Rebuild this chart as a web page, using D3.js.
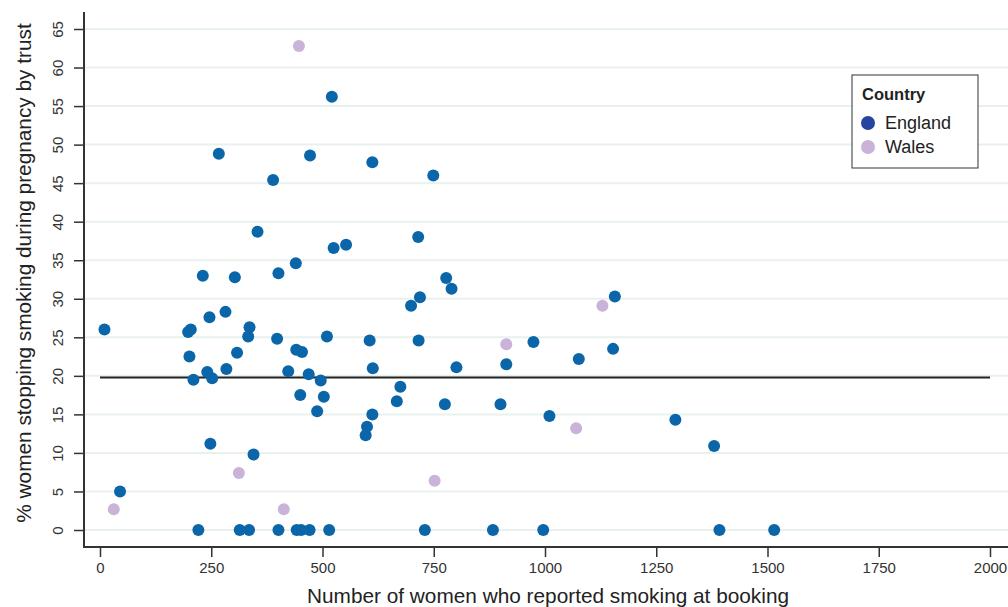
<!DOCTYPE html>
<html lang="en">
  <head>
    <meta charset="UTF-8" />
    <title>Smoking cessation during pregnancy by trust</title>
    <script src="https://d3js.org/d3.v7.min.js"></script>
    <style>
      body {
        margin: 0;
        background: #fff;
        font-family: "Liberation Sans", Arial, Helvetica, sans-serif;
      }
      .tick text {
        fill: #333;
        font-size: 15px;
      }
      .axis-title {
        fill: #222;
        font-size: 20.8px;
        text-anchor: middle;
      }
    </style>
  </head>
  <body>
    <div id="chart"></div>

    <script>
      // England trusts: women smoking at booking vs % stopping
      const englandX = [521, 267, 472, 389, 354, 525, 231, 303, 401, 440, 612, 749, 553, 715, 778, 790, 719, 1157,
        10, 198, 204, 246, 282, 336, 333, 398, 201, 308, 441, 454, 510, 241, 284, 210, 252, 423, 469, 496,
        450, 503, 488, 248, 345, 45, 699, 606, 716, 974, 1153, 1076, 613, 801, 913, 675, 667, 775, 900,
        612, 1010, 600, 597, 1293, 1380,
        221, 314, 335, 401, 442, 452, 471, 515, 730, 883, 996, 1392, 1515];
      const englandY = [56.2, 48.8, 48.6, 45.4, 38.7, 36.6, 33.0, 32.8, 33.3, 34.6, 47.7, 46.0, 37.0, 38.0, 32.7, 31.3, 30.2, 30.3,
        26.0, 25.7, 26.0, 27.6, 28.3, 26.3, 25.1, 24.8, 22.5, 23.0, 23.4, 23.1, 25.1, 20.5, 20.9, 19.5, 19.7, 20.6, 20.2, 19.4,
        17.5, 17.3, 15.4, 11.2, 9.8, 5.0, 29.1, 24.6, 24.6, 24.4, 23.5, 22.2, 21.0, 21.1, 21.5, 18.6, 16.7, 16.3, 16.3,
        15.0, 14.8, 13.4, 12.3, 14.3, 10.9,
        0, 0, 0, 0, 0, 0, 0, 0, 0, 0, 0, 0, 0];

      // Wales health boards
      const walesX = [447, 312, 31, 413, 1129, 913, 1070, 752];
      const walesY = [62.8, 7.4, 2.7, 2.7, 29.1, 24.1, 13.2, 6.4];

      const countries = ["England", "Wales"];
      const xTicks = [0, 250, 500, 750, 1000, 1250, 1500, 1750, 2000];
      const yTicks = [0, 5, 10, 15, 20, 25, 30, 35, 40, 45, 50, 55, 60, 65];
      const meanValue = 19.8;

      const width = 1008;
      const height = 607;
      const axisLeft = 84;
      const axisBottom = 547;

      const x = d3.scaleLinear().domain([0, 2000]).range([100, 990]);
      const y = d3.scaleLinear().domain([0, 65]).range([530, 29]);

      const color = d3
        .scaleOrdinal()
        .domain(countries)
        .range(["#0b66a9", "#c9b3d8"]);

      const svg = d3
        .select("#chart")
        .append("svg")
        .attr("width", width)
        .attr("height", height);

      // Gridlines
      svg
        .append("g")
        .selectAll("line")
        .data(yTicks)
        .enter()
        .append("line")
        .attr("x1", axisLeft)
        .attr("x2", width)
        .attr("y1", (d) => y(d))
        .attr("y2", (d) => y(d))
        .attr("stroke", "#e9f1ef")
        .attr("stroke-width", 2);

      // Mean line
      svg
        .append("line")
        .attr("x1", x(0))
        .attr("x2", x(2000))
        .attr("y1", y(meanValue))
        .attr("y2", y(meanValue))
        .attr("stroke", "#222")
        .attr("stroke-width", 2);

      // Points
      const points = englandX
        .map((v, i) => ({ country: "England", x: v, y: englandY[i] }))
        .concat(walesX.map((v, i) => ({ country: "Wales", x: v, y: walesY[i] })));

      svg
        .append("g")
        .selectAll("circle")
        .data(points)
        .enter()
        .append("circle")
        .attr("cx", (d) => x(d.x))
        .attr("cy", (d) => y(d.y))
        .attr("r", 6)
        .attr("fill", (d) => color(d.country));

      // Axes
      const xAxis = svg
        .append("g")
        .attr("transform", `translate(0,${axisBottom})`)
        .call(
          d3.axisBottom(x).tickValues(xTicks).tickFormat(d3.format("d"))
            .tickSize(10).tickPadding(5).tickSizeOuter(0)
        );
      xAxis.select(".domain").remove();
      xAxis.selectAll(".tick line").attr("stroke", "#333").attr("stroke-width", 1.5);

      const yAxis = svg
        .append("g")
        .attr("transform", `translate(${axisLeft},0)`)
        .call(d3.axisLeft(y).tickValues(yTicks).tickSize(10).tickSizeOuter(0));
      yAxis.select(".domain").remove();
      yAxis.selectAll(".tick line").attr("stroke", "#333").attr("stroke-width", 1.5);
      yAxis
        .selectAll(".tick text")
        .attr("transform", "rotate(-90)")
        .attr("x", 0)
        .attr("y", -21)
        .attr("dy", 0)
        .attr("text-anchor", "middle");

      svg
        .append("line")
        .attr("x1", axisLeft)
        .attr("x2", width)
        .attr("y1", axisBottom)
        .attr("y2", axisBottom)
        .attr("stroke", "#333")
        .attr("stroke-width", 2);

      svg
        .append("line")
        .attr("x1", axisLeft)
        .attr("x2", axisLeft)
        .attr("y1", 12)
        .attr("y2", axisBottom + 1)
        .attr("stroke", "#333")
        .attr("stroke-width", 2);

      // Axis titles
      svg
        .append("text")
        .attr("class", "axis-title")
        .attr("x", 548)
        .attr("y", 603)
        .text("Number of women who reported smoking at booking");

      svg
        .append("text")
        .attr("class", "axis-title")
        .attr("transform", "translate(31,273) rotate(-90)")
        .text("% women stopping smoking during pregnancy by trust");

      // Legend
      const legend = svg.append("g").attr("transform", "translate(852,75)");

      legend
        .append("rect")
        .attr("width", 126)
        .attr("height", 93)
        .attr("fill", "#fff")
        .attr("stroke", "#333")
        .attr("stroke-width", 1);

      legend
        .append("text")
        .attr("x", 10)
        .attr("y", 25)
        .attr("font-size", 16.5)
        .attr("font-weight", "bold")
        .attr("fill", "#222")
        .text("Country");

      const legendItems = legend
        .selectAll(".legend-item")
        .data(countries)
        .enter()
        .append("g")
        .attr("class", "legend-item")
        .attr("transform", (d, i) => `translate(0, ${48 + i * 24})`);

      legendItems
        .append("circle")
        .attr("cx", 16)
        .attr("cy", 0)
        .attr("r", 7)
        .attr("fill", (d) => (d === "England" ? "#2745a0" : color(d)));

      legendItems
        .append("text")
        .attr("x", 33)
        .attr("y", 6)
        .attr("font-size", 18)
        .attr("fill", "#222")
        .text((d) => d);
    </script>
  </body>
</html>
